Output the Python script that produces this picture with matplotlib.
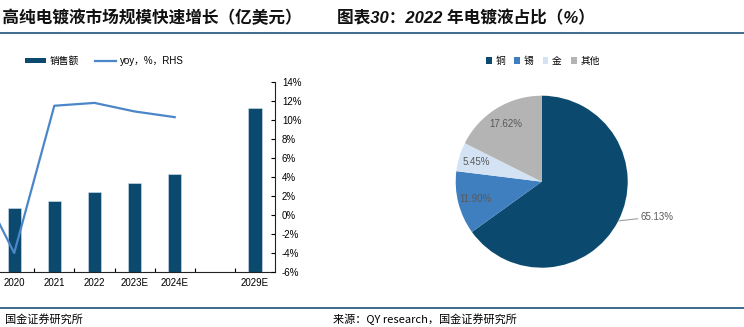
import numpy as np
import matplotlib
matplotlib.use("Agg")
import matplotlib.pyplot as plt
from matplotlib.lines import Line2D
from matplotlib.patches import Patch
from matplotlib.ticker import FuncFormatter

plt.rcParams['font.family'] = ['Liberation Sans', 'Noto Sans CJK SC', 'DejaVu Sans']

# left chart data (sales in 亿美元, yoy in %)
years = ["2019", "2020", "2021", "2022", "2023E", "2024E", "", "2029E"]
sales = [7.05, 6.77, 7.5, 8.42, 9.34, 10.28, np.nan, 17.23]
yoy = [4.4, -4.0, 11.5, 11.8, 10.9, 10.3, np.nan, np.nan]

# right chart data
pie_labels = ["铜", "锡", "金", "其他"]
pie_values = [65.13, 11.90, 5.45, 17.62]
pie_colors = ["#0b4a6e", "#3f7fc0", "#d3e3f3", "#b4b4b4"]

W, H = 744, 327
fig = plt.figure(figsize=(W / 100, H / 100), dpi=100)

def fx(px):
    return px / W

def fy(py):
    return 1 - py / H

# titles and rules
fig.text(fx(302), fy(18), "图表29：高纯电镀液市场规模快速增长（亿美元）", ha='right', va='center',
         fontsize=12, fontweight='bold', style='italic', color='#111111')
fig.text(fx(337), fy(18), "图表30：2022 年电镀液占比（%）", ha='left', va='center',
         fontsize=12, fontweight='bold', style='italic', color='#111111')
fig.add_artist(Line2D([0, 1], [fy(32.5), fy(32.5)], color='#2f5f85', lw=1.3))
fig.add_artist(Line2D([0, 1], [fy(308), fy(308)], color='#2f5f85', lw=1.3))
fig.text(fx(5), fy(319), "国金证券研究所", ha='left', va='center', fontsize=8, family=['Noto Sans CJK SC'])
fig.text(fx(333), fy(319), "来源：QY research，国金证券研究所", ha='left', va='center', fontsize=8,
         family=['Noto Sans CJK SC'])

# left chart
ax = fig.add_axes([fx(-46), fy(272), fx(321), 190 / H])
x = np.arange(len(years))
ax.bar(x, sales, width=0.33, color='#0b4a6e', edgecolor='#d8e4ee', linewidth=0.4, label="销售额")
ax.set_xlim(-0.5, len(years) - 0.5)
ax.set_ylim(0, 20)
ax.set_xticks(x)
ax.set_xticklabels(years, fontsize=7)
ax.set_xticks(np.arange(len(years) - 1) + 0.5, minor=True)
ax.tick_params(axis='x', which='major', length=0, pad=4)
ax.tick_params(axis='x', which='minor', length=3, direction='in', width=0.8)
ax.tick_params(axis='y', left=False, labelleft=False)
for s in ['top', 'left', 'right']:
    ax.spines[s].set_visible(False)
ax.spines['bottom'].set_color('#222222')

ax2 = ax.twinx()
ax2.plot(x, yoy, color='#4a86c8', lw=1.6, label="yoy，%，RHS")
ax2.set_ylim(-6, 14)
ax2.set_yticks(np.arange(-6, 15, 2))
ax2.yaxis.set_major_formatter(FuncFormatter(lambda v, p: f"{v:.0f}%"))
ax2.tick_params(axis='y', direction='in', length=3, labelsize=7, pad=5, width=0.8)
for s in ['top', 'left', 'bottom']:
    ax2.spines[s].set_visible(False)
ax2.spines['right'].set_color('#222222')

handles = [Patch(facecolor='#0b4a6e'), Line2D([], [], color='#4a86c8', lw=1.6)]
fig.legend(handles, ["销售额", "yoy，%，RHS"], loc='center left', bbox_to_anchor=(fx(16), fy(61)),
           ncol=2, frameon=False, fontsize=7, handlelength=2.2, handleheight=0.5,
           handletextpad=0.4, columnspacing=1.6)

# right chart
r = 86
axp = fig.add_axes([fx(541.7 - r), fy(181.7 + r), fx(2 * r), 2 * r / H])
wedges, _ = axp.pie(pie_values, colors=pie_colors, startangle=90, counterclock=False, radius=1)
axp.set_xlim(-1, 1)
axp.set_ylim(-1, 1)
for w, v in zip(wedges, pie_values):
    mid = np.deg2rad((w.theta1 + w.theta2) / 2)
    if v > 50:
        axp.annotate(f"{v:.2f}%", xy=(np.cos(mid), np.sin(mid)),
                     xytext=(np.cos(mid) + 0.26, np.sin(mid) + 0.05),
                     ha='left', va='center', fontsize=7, color='#595959',
                     arrowprops=dict(arrowstyle='-', color='#a0a0a0', lw=0.8,
                                     shrinkA=0, shrinkB=0),
                     annotation_clip=False)
    else:
        axp.text(0.79 * np.cos(mid), 0.79 * np.sin(mid), f"{v:.2f}%", ha='center', va='center',
                 fontsize=7, color='#595959')

ph = [Patch(facecolor=c) for c in pie_colors]
fig.legend(ph, pie_labels, loc='center', bbox_to_anchor=(fx(543), fy(61)), ncol=4, frameon=False,
           fontsize=7, handlelength=0.6, handleheight=0.6, handletextpad=0.4, columnspacing=0.9,
           prop={'family': ['Noto Sans CJK SC'], 'size': 7})

fig.savefig("out.png", dpi=100)
